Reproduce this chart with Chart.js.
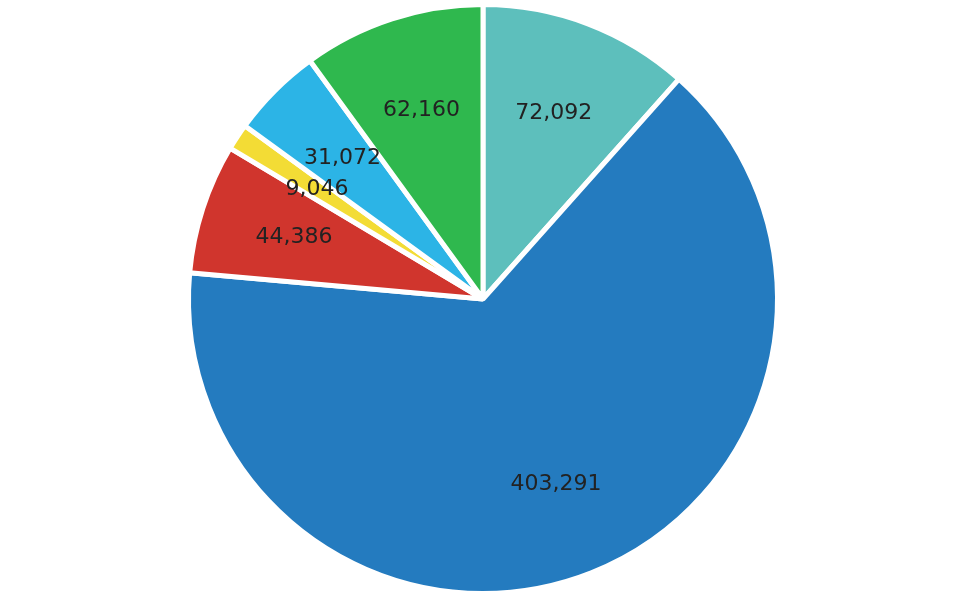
<!DOCTYPE html>
<html><head><meta charset="utf-8">
<script src="https://cdn.jsdelivr.net/npm/chart.js@4/dist/chart.umd.min.js"></script>
<style>html,body{margin:0;background:#fff}#w{width:966px;height:598px}</style>
</head><body><div id="w"><canvas id="c"></canvas></div>
<script>
const categories = ["A","B","C","D","E","F"];
const values = [72092, 403291, 44386, 9046, 31072, 62160];
const colors = ["#5dbfbc","#247bbf","#d0352d","#f3dc35","#2cb4e6","#2fb84e"];
const labelPlugin = {
  id:'lbl',
  afterDatasetsDraw(chart){
    const ctx = chart.ctx;
    const meta = chart.getDatasetMeta(0);
    ctx.save();
    ctx.font = '22px "DejaVu Sans", sans-serif';
    ctx.fillStyle = '#222';
    ctx.textAlign='center'; ctx.textBaseline='middle';
    meta.data.forEach((arc,i)=>{
      const a=(arc.startAngle+arc.endAngle)/2, r=arc.outerRadius*0.675;
      ctx.fillText(values[i].toLocaleString('en-US'), arc.x+Math.cos(a)*r, arc.y+Math.sin(a)*r);
    });
    ctx.restore();
  }
};
new Chart(document.getElementById('c'),{
  type:'pie',
  data:{labels:categories,datasets:[{data:values,backgroundColor:colors,borderColor:'#fff',borderWidth:5}]},
  options:{responsive:true,maintainAspectRatio:false,animation:false,
    layout:{padding:{top:2,bottom:2}},
    plugins:{legend:{display:false},tooltip:{enabled:false}}},
  plugins:[labelPlugin]
});
</script></body></html>
